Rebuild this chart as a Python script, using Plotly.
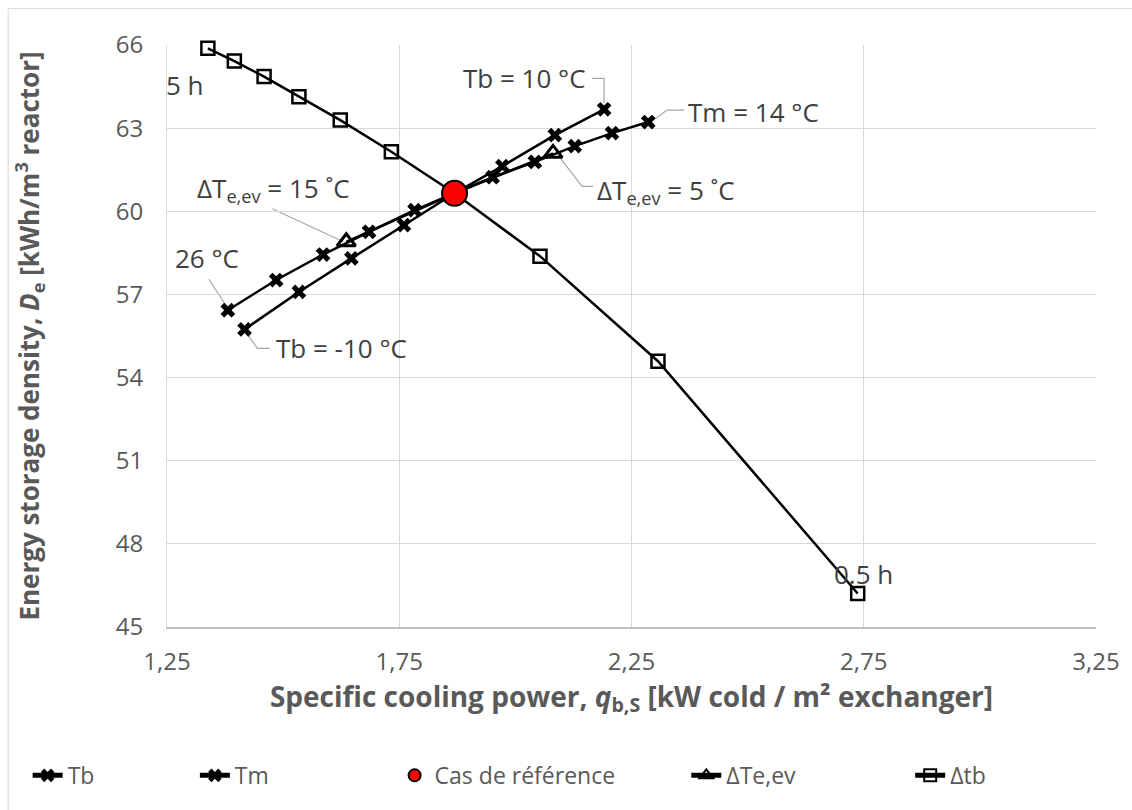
import plotly.graph_objects as go

# ---------------- data ----------------
ref_x = 1.869
ref_y = 60.65

tb_left_x = [1.417, 1.534, 1.647, 1.760]
tb_left_y = [55.74, 57.09, 58.30, 59.50]
tb_right_x = [1.972, 2.085, 2.191]
tb_right_y = [61.63, 62.75, 63.68]

tm_left_x = [1.381, 1.485, 1.586, 1.685, 1.783]
tm_left_y = [56.43, 57.52, 58.44, 59.26, 60.04]
tm_right_x = [1.951, 2.042, 2.128, 2.208, 2.286]
tm_right_y = [61.23, 61.78, 62.35, 62.82, 63.22]

dte_left_x = [1.636]
dte_left_y = [58.90]
dte_right_x = [2.081]
dte_right_y = [62.09]

dtb_left_x = [1.338, 1.395, 1.459, 1.534, 1.623, 1.733]
dtb_left_y = [65.88, 65.42, 64.86, 64.13, 63.29, 62.15]
dtb_right_x = [2.053, 2.307, 2.737]
dtb_right_y = [58.38, 54.59, 46.21]

x_ticks = [1.25, 1.75, 2.25, 2.75, 3.25]
y_ticks = [45, 48, 51, 54, 57, 60, 63, 66]

tb_x = tb_left_x + [ref_x] + tb_right_x
tb_y = tb_left_y + [ref_y] + tb_right_y
tm_x = tm_left_x + [ref_x] + tm_right_x
tm_y = tm_left_y + [ref_y] + tm_right_y
dte_x = dte_left_x + [ref_x] + dte_right_x
dte_y = dte_left_y + [ref_y] + dte_right_y
dtb_x = dtb_left_x + [ref_x] + dtb_right_x
dtb_y = dtb_left_y + [ref_y] + dtb_right_y

# ---------------- styling ----------------
FONT = "Open Sans"
TXT = "#404040"
AX = "#595959"
GRID = "#d9d9d9"
LEAD = "#a6a6a6"

fig = go.Figure()

line_style = dict(color="black", width=2.5)

fig.add_trace(go.Scatter(x=tb_x, y=tb_y, mode="lines+markers", name="Tb",
                         line=line_style, cliponaxis=False,
                         marker=dict(symbol="x", size=13, color="black"),
                         legend="legend"))
fig.add_trace(go.Scatter(x=tm_x, y=tm_y, mode="lines+markers", name="Tm",
                         line=line_style, cliponaxis=False,
                         marker=dict(symbol="x", size=13, color="black"),
                         legend="legend2"))
fig.add_trace(go.Scatter(x=dte_x, y=dte_y, mode="lines+markers", name="ΔTe,ev",
                         line=line_style, cliponaxis=False,
                         marker=dict(symbol="triangle-up-open", size=16, color="black",
                                     line=dict(width=3, color="black")),
                         legend="legend4"))
fig.add_trace(go.Scatter(x=dtb_x, y=dtb_y, mode="lines+markers", name="Δtb",
                         line=line_style, cliponaxis=False,
                         marker=dict(symbol="square-open", size=13, color="black",
                                     line=dict(width=2.5, color="black")),
                         legend="legend5"))
fig.add_trace(go.Scatter(x=[ref_x], y=[ref_y], mode="markers", name="Cas de référence",
                         cliponaxis=False,
                         marker=dict(symbol="circle", size=25, color="#ff0000",
                                     line=dict(width=2, color="black")),
                         legend="legend3"))

# ---------------- text labels with leader lines ----------------
def label(x, y, text, xshift, yshift, xanchor):
    fig.add_annotation(x=x, y=y, text=text, showarrow=False, xshift=xshift,
                       yshift=yshift, xanchor=xanchor, yanchor="middle",
                       font=dict(family=FONT, size=26, color=TXT))

def leader(x, y, pts):
    path = "M " + " L ".join(f"{px},{py}" for px, py in pts)
    fig.add_shape(type="path", xref="x", yref="y", xsizemode="pixel",
                  ysizemode="pixel", xanchor=x, yanchor=y, path=path,
                  line=dict(color=LEAD, width=1.2), layer="below")

# Tb = 10 °C
label(tb_x[-1], tb_y[-1], "Tb = 10 °C", -16, 31, "right")
leader(tb_x[-1], tb_y[-1], [(-12, 31), (0, 31), (0, 6)])
# Tm = 14 °C
label(tm_x[-1], tm_y[-1], "Tm = 14 °C", 38, 10, "left")
leader(tm_x[-1], tm_y[-1], [(36, 12), (19, 12), (5, 2)])
# ΔTe,ev = 5 °C
label(dte_x[-1], dte_y[-1], "ΔT<sub>e,ev</sub> = 5 ˚C", 42, -38, "left")
leader(dte_x[-1], dte_y[-1], [(40, -33), (29, -33), (6, -3)])
# ΔTe,ev = 15 °C
label(dte_x[0], dte_y[0], "ΔT<sub>e,ev</sub> = 15 ˚C", -73, 53, "center")
leader(dte_x[0], dte_y[0], [(-74, 33), (-3, 0)])
# 26 °C
label(tm_x[0], tm_y[0], "26 °C", -21, 52, "center")
leader(tm_x[0], tm_y[0], [(-19, 31), (0, 2)])
# Tb = -10 °C
label(tb_x[0], tb_y[0], "Tb = -10 °C", 29, -19, "left")
leader(tb_x[0], tb_y[0], [(25, -19), (13, -19), (0, -1)])
# 5 h
label(dtb_x[0], dtb_y[0], "5 h", -44, -37, "left")
# 0.5 h
label(dtb_x[-1], dtb_y[-1], "0.5 h", 6, 19, "center")

# outer chart border
fig.add_shape(type="rect", xref="paper", yref="paper",
              x0=-0.171, x1=1.04, y0=-0.33, y1=1.0625,
              line=dict(color=GRID, width=1), layer="below")

# ---------------- legends ----------------
leg_common = dict(orientation="h", yanchor="middle", y=-0.255, xanchor="left",
                  bgcolor="rgba(0,0,0,0)", itemsizing="constant",
                  font=dict(family=FONT, size=23, color=AX), tracegroupgap=0)

fig.update_layout(
    width=1132, height=810,
    margin=dict(l=167, r=36, t=45, b=183, autoexpand=False),
    paper_bgcolor="white", plot_bgcolor="white",
    separators=", ",
    font=dict(family=FONT, color=AX),
    showlegend=True,
    legend=dict(leg_common, x=-0.150),
    legend2=dict(leg_common, x=0.030),
    legend3=dict(leg_common, x=0.245),
    legend4=dict(leg_common, x=0.559),
    legend5=dict(leg_common, x=0.800),
    xaxis=dict(range=[x_ticks[0], x_ticks[-1]], tickvals=x_ticks, tickformat=".2f",
               showgrid=True, gridcolor=GRID, gridwidth=1,
               showline=True, linecolor="#bfbfbf", linewidth=1.5,
               zeroline=False, ticks="", ticklen=0, ticklabelstandoff=12,
               tickfont=dict(family=FONT, size=24, color=AX),
               title=dict(text="<b>Specific cooling power, <i>q</i><sub>b,S</sub> [kW cold / m² exchanger]</b>",
                          font=dict(family=FONT, size=28, color=AX), standoff=1)),
    yaxis=dict(range=[y_ticks[0], y_ticks[-1]], tickvals=y_ticks,
               showgrid=True, gridcolor=GRID, gridwidth=1,
               showline=True, linecolor=GRID, linewidth=1, mirror=False,
               zeroline=False, ticks="", ticklen=0, ticklabelstandoff=18,
               tickfont=dict(family=FONT, size=24, color=AX),
               title=dict(text="<b>Energy storage density, <i>D</i><sub>e</sub> [kWh/m<sup>3</sup> reactor]</b>",
                          font=dict(family=FONT, size=26, color=AX), standoff=68)),
)

fig.write_html("out.html")
